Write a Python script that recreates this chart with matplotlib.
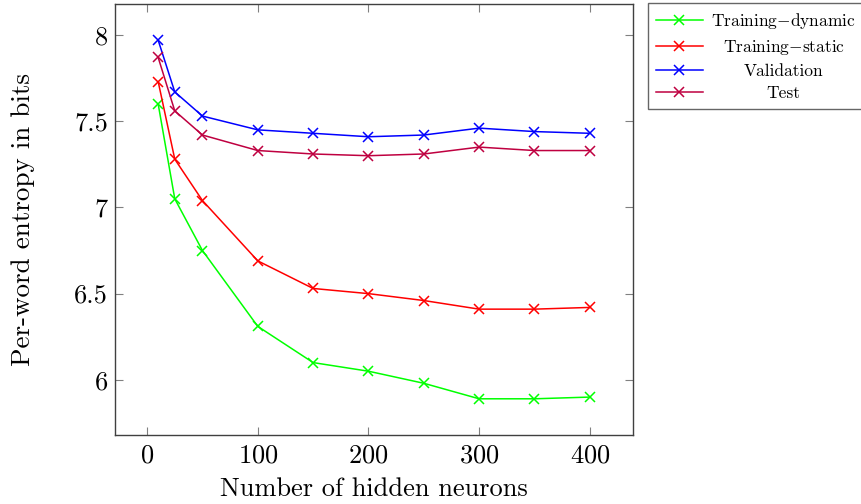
import matplotlib
matplotlib.use("Agg")
import matplotlib.pyplot as plt

plt.rcParams['font.family'] = 'serif'
plt.rcParams['font.serif'] = ['cmr10', 'DejaVu Serif']
plt.rcParams['mathtext.fontset'] = 'cm'
plt.rcParams['axes.unicode_minus'] = False
plt.rcParams['axes.formatter.use_mathtext'] = True

neurons = [10, 25, 50, 100, 150, 200, 250, 300, 350, 400]
train_dynamic = [7.60, 7.05, 6.75, 6.31, 6.10, 6.05, 5.98, 5.89, 5.89, 5.90]
train_static = [7.73, 7.28, 7.04, 6.69, 6.53, 6.50, 6.46, 6.41, 6.41, 6.42]
validation = [7.97, 7.67, 7.53, 7.45, 7.43, 7.41, 7.42, 7.46, 7.44, 7.43]
test = [7.87, 7.56, 7.42, 7.33, 7.31, 7.30, 7.31, 7.35, 7.33, 7.33]

labels = ['Training$-$dynamic', 'Training$-$static', 'Validation', 'Test']
colors = ['#00ff00', '#ff0000', '#0000ff', '#bf0040']
xticks = [0, 100, 200, 300, 400]
yticks = [6, 6.5, 7, 7.5, 8]
yticklabels = ['6', '6.5', '7', '7.5', '8']

fig = plt.figure(figsize=(8.62, 5.04), dpi=100)
ax = fig.add_axes([115/862, 1 - 435/504, (633-115)/862, (435-4)/504])

for ys, lab, c in zip([train_dynamic, train_static, validation, test], labels, colors):
    ax.plot(neurons, ys, color=c, marker='x', markersize=6.5, markeredgewidth=1.1,
            linewidth=1.1, label=lab)

ax.set_xlim(-29, 439)
ax.set_ylim(5.68, 8.18)
ax.set_xticks(xticks)
ax.set_yticks(yticks)
ax.set_yticklabels(yticklabels)
ax.tick_params(direction='in', length=6, color='#808080', labelsize=19,
               top=True, right=True)
ax.tick_params(axis='x', pad=6)
ax.tick_params(axis='y', pad=5)
for s in ax.spines.values():
    s.set_color('#404040')
    s.set_linewidth(1.0)

ax.set_xlabel('Number of hidden neurons', fontsize=19, labelpad=7)
ax.set_ylabel('Per-word entropy in bits', fontsize=19.5, labelpad=28)

leg = ax.legend(loc='upper left', bbox_to_anchor=(648/862, 1 - 3/504),
                bbox_transform=fig.transFigure, fontsize=12.5, frameon=True,
                fancybox=False, edgecolor='#404040', borderaxespad=0,
                handlelength=2.7, handletextpad=0.5, labelspacing=0.4,
                borderpad=0.45)
leg.get_frame().set_linewidth(1.0)

renderer = fig.canvas.get_renderer()
texts = leg.get_texts()
widths = [t.get_window_extent(renderer).width for t in texts]
wmax = max(widths)
for t, w in zip(texts, widths):
    t.set_position(((wmax - w) / 2, 0))

fig.savefig('out.png', dpi=100)
